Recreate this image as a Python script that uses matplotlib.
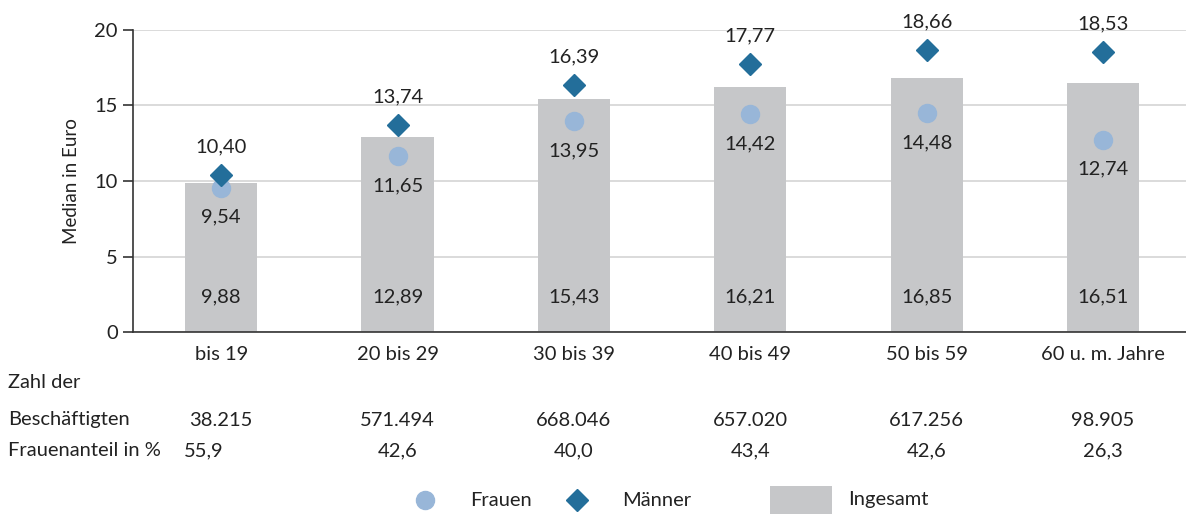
import matplotlib.pyplot as plt
from matplotlib.lines import Line2D
from matplotlib.patches import Rectangle
from matplotlib.transforms import blended_transform_factory

plt.rcParams['font.family'] = ['Lato', 'DejaVu Sans']

# data
categories = ["bis 19", "20 bis 29", "30 bis 39", "40 bis 49", "50 bis 59", "60 u. m. Jahre"]
ingesamt = [9.88, 12.89, 15.43, 16.21, 16.85, 16.51]
frauen = [9.54, 11.65, 13.95, 14.42, 14.48, 12.74]
maenner = [10.40, 13.74, 16.39, 17.77, 18.66, 18.53]
beschaeftigte = ["38.215", "571.494", "668.046", "657.020", "617.256", "98.905"]
frauenanteil = ["55,9", "42,6", "40,0", "43,4", "42,6", "26,3"]
legend_labels = ["Frauen", "Männer", "Ingesamt"]

c_bar = "#c6c7c9"
c_frau = "#98b6d8"
c_mann = "#236e9a"
c_text = "#222222"
fs = 14.5

W, H = 1186, 514


def de(v):
    return f"{v:.2f}".replace(".", ",")


def fx(px):
    return px / W


def fy(py):
    return 1 - py / H


fig = plt.figure(figsize=(W / 100, H / 100), dpi=100)
ax = fig.add_axes([fx(133), fy(332), 1 - fx(133), 302 / H])

x = list(range(len(categories)))
ax.bar(x, ingesamt, width=0.41, color=c_bar, zorder=2)
ax.plot(x, frauen, 'o', color=c_frau, markersize=13, zorder=3)
ax.plot(x, maenner, 'D', color=c_mann, markersize=11, zorder=4)

for i in x:
    ax.annotate(de(maenner[i]), (i, maenner[i]), xytext=(0, 14), textcoords='offset points',
                ha='center', va='bottom', fontsize=fs, color=c_text)
    ax.annotate(de(frauen[i]), (i, frauen[i]), xytext=(0, -15), textcoords='offset points',
                ha='center', va='top', fontsize=fs, color=c_text)
    ax.text(i, 2.3, de(ingesamt[i]), ha='center', va='center', fontsize=fs, color=c_text)

ax.set_xlim(-0.5, 5.47)
ax.set_ylim(0, 20)
ax.set_yticks([0, 5, 10, 15, 20])
ax.yaxis.grid(True, color="#d4d4d4", linewidth=1.2, zorder=0)
ax.set_axisbelow(True)
ax.spines[['top', 'right']].set_visible(False)
ax.spines[['left', 'bottom']].set_color("#333333")
ax.spines[['left', 'bottom']].set_linewidth(1.2)
ax.tick_params(axis='y', length=7, width=1.2, color="#333333", labelsize=fs, labelcolor=c_text, pad=4)
ax.set_xticks(x)
ax.set_xticklabels(categories)
ax.tick_params(axis='x', length=0, labelsize=fs, labelcolor=c_text, pad=10)
ax.set_ylabel("Median in Euro", fontsize=fs - 1, color=c_text, labelpad=10)

# table below the axis
fig.text(fx(8), fy(383), "Zahl der", fontsize=fs, color=c_text, va='center')
fig.text(fx(8), fy(420), "Beschäftigten", fontsize=fs, color=c_text, va='center')
fig.text(fx(8), fy(451), "Frauenanteil in %", fontsize=fs, color=c_text, va='center')

tr = blended_transform_factory(ax.transData, fig.transFigure)
for i in x:
    fig.text(i, fy(420), beschaeftigte[i], transform=tr, fontsize=fs, color=c_text, ha='center', va='center')
    xo = i - 0.1 if i == 0 else i
    fig.text(xo, fy(451), frauenanteil[i], transform=tr, fontsize=fs, color=c_text, ha='center', va='center')

# legend, drawn by hand
ly = fy(500)
fig.add_artist(Line2D([fx(425)], [ly], marker='o', linestyle='none', color=c_frau, markersize=13))
fig.add_artist(Line2D([fx(577)], [ly], marker='D', linestyle='none', color=c_mann, markersize=11))
fig.add_artist(Rectangle((fx(770), fy(514)), fx(62), 28 / H, facecolor=c_bar, edgecolor='none'))
for px, lab in zip([470, 622, 848], legend_labels):
    fig.text(fx(px), ly, lab, fontsize=fs, color=c_text, va='center')

fig.savefig("out.png", dpi=100)
